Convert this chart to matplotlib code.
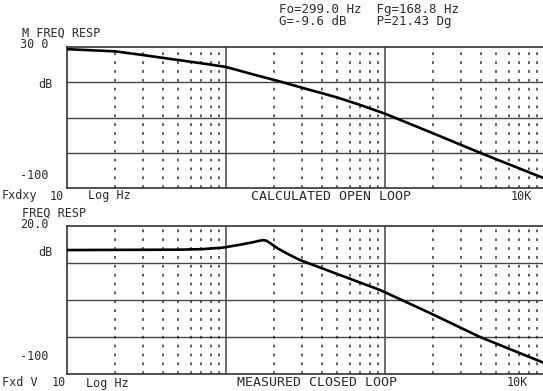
import matplotlib
matplotlib.use("Agg")
import matplotlib.pyplot as plt
import numpy as np

# ---- data ----
freq_open = [10, 20, 30, 50, 70, 100, 150, 215, 300, 500, 700, 1000, 2000, 4000, 10000]
mag_open = [28, 26, 22.6, 18, 15, 11.6, 4.5, -1.5, -7.5, -16.5, -23.5, -31.5, -49.5, -67.8, -91]

freq_closed = [10, 50, 70, 96, 122, 150, 160, 171, 178, 185, 200, 213, 250, 292, 500, 931, 1919, 3957, 9036, 10000]
mag_closed = [0.5, 0.8, 1.2, 2.5, 4.8, 7.0, 7.9, 8.5, 8.2, 7.0, 4.0, 1.6, -3.3, -7.6, -18.9, -31.9, -50.6, -70, -88.7, -91]

top_ylim = (-100, 30)
bot_ylim = (-100, 20)

header1 = "Fo=299.0 Hz  Fg=168.8 Hz"
header2 = "G=-9.6 dB    P=21.43 Dg"

W, H = 543, 391
fig = plt.figure(figsize=(W / 100, H / 100), dpi=100)
fig.patch.set_facecolor("white")

FONT = "DejaVu Sans Mono"
TC = "#2a2a2a"


def px_ax(x0, y0, x1, y1):
    return fig.add_axes([x0 / W, 1 - y1 / H, (x1 - x0) / W, (y1 - y0) / H])


def style(ax, ylim, freqs, mags):
    ax.set_xscale("log")
    ax.set_xlim(10, 10000)
    ax.set_ylim(*ylim)
    lo, hi = ylim
    for k in range(1, 4):
        ax.axhline(lo + (hi - lo) * k / 4, color="#444444", lw=1.0, zorder=1)
    for dec in [10, 100, 1000]:
        for m in range(2, 10):
            ax.axvline(dec * m, color="#333333", lw=1.1, ls=(0, (1.8, 4.0)), zorder=1)
    for dec in [100, 1000]:
        ax.axvline(dec, color="#444444", lw=1.1, zorder=1)
    ax.plot(freqs, mags, color="black", lw=1.9, zorder=3,
            solid_capstyle="round", solid_joinstyle="round")
    ax.set_xticks([])
    ax.set_yticks([])
    ax.minorticks_off()
    for s in ax.spines.values():
        s.set_color("#333333")
        s.set_linewidth(1.2)
    ax.spines["right"].set_visible(False)


ax1 = px_ax(67, 47, 544, 188)
style(ax1, top_ylim, freq_open, mag_open)
ax2 = px_ax(67, 226, 544, 374)
style(ax2, bot_ylim, freq_closed, mag_closed)


def t(x, y, s, ha="left", size=8.5):
    fig.text(x / W, 1 - y / H, s, ha=ha, va="center", fontsize=size,
             family=FONT, color=TC)


# header
t(279, 10, header1, size=9)
t(279, 22, header2, size=9)

# top plot labels
t(22, 33, "M FREQ RESP")
t(20, 45, "30 0")
t(38, 84, "dB")
t(20, 175, "-100")
t(2, 196, "Fxdxy")
t(50, 196, "10")
t(88, 196, "Log Hz")
t(331, 196, "CALCULATED OPEN LOOP", ha="center", size=9.5)
t(532, 196, "10K", ha="right")

# bottom plot labels
t(22, 213, "FREQ RESP")
t(20, 225, "20.0")
t(38, 252, "dB")
t(20, 356, "-100")
t(2, 383, "Fxd V")
t(52, 383, "10")
t(86, 383, "Log Hz")
t(317, 383, "MEASURED CLOSED LOOP", ha="center", size=9.5)
t(528, 383, "10K", ha="right")

fig.savefig("out.png", dpi=100, facecolor="white")
